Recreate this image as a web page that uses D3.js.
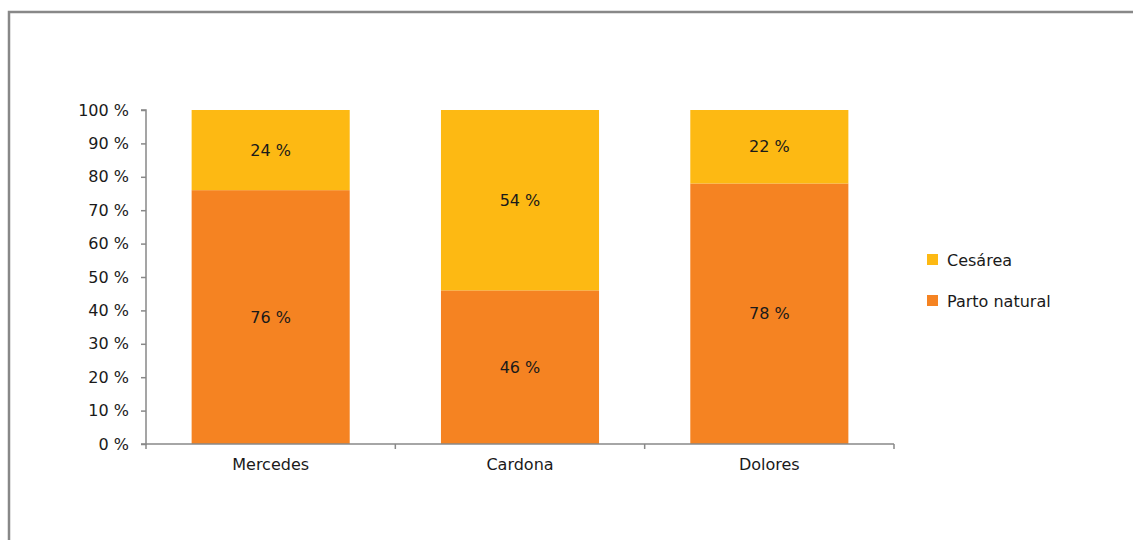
<!DOCTYPE html>
<html>
<head>
<meta charset="utf-8">
<script src="https://cdn.jsdelivr.net/npm/d3@7"></script>
<style>
  body { margin: 0; background: #fff; }
  text { font-family: "DejaVu Sans", sans-serif; fill: #1a1a1a; }
</style>
</head>
<body>
<div id="chart"></div>
<script>
var categories = ["Mercedes", "Cardona", "Dolores"];
var partoNatural = [76, 46, 78];
var cesarea = [24, 54, 22];
var yTicks = [0, 10, 20, 30, 40, 50, 60, 70, 80, 90, 100];
var seriesNames = ["Cesárea", "Parto natural"];
var seriesColors = ["#FDB913", "#F58322"];

var width = 1133, height = 540;
var plotLeft = 146, plotRight = 894, plotTop = 110, plotBottom = 444;

var svg = d3.select('#chart')
    .append('svg')
    .attr('width', width)
    .attr('height', height);

// frame
svg.append('path')
    .attr('d', 'M9,' + (height + 5) + 'V12H' + (width + 5))
    .attr('fill', 'none')
    .attr('stroke', '#888')
    .attr('stroke-width', 2.5);

var x = d3.scaleBand().domain(categories).range([plotLeft, plotRight]);
var y = d3.scaleLinear().domain([0, 100]).range([plotBottom, plotTop]);
var barWidth = x.bandwidth() * 0.634;

var rows = categories.map(function(c, i) {
    return { name: c, parto: partoNatural[i], cesarea: cesarea[i] };
});

var bars = svg.append('g').selectAll('g')
    .data(rows)
    .enter()
    .append('g');

bars.append('rect')
    .attr('x', function(d) { return x(d.name) + (x.bandwidth() - barWidth) / 2; })
    .attr('y', function(d) { return y(d.parto); })
    .attr('width', barWidth)
    .attr('height', function(d) { return y(0) - y(d.parto); })
    .attr('fill', seriesColors[1]);

bars.append('rect')
    .attr('x', function(d) { return x(d.name) + (x.bandwidth() - barWidth) / 2; })
    .attr('y', function(d) { return y(d.parto + d.cesarea); })
    .attr('width', barWidth)
    .attr('height', function(d) { return y(d.parto) - y(d.parto + d.cesarea); })
    .attr('fill', seriesColors[0]);

bars.append('text')
    .attr('x', function(d) { return x(d.name) + x.bandwidth() / 2; })
    .attr('y', function(d) { return y(d.parto / 2); })
    .attr('dy', '.35em')
    .attr('text-anchor', 'middle')
    .style('font-size', '16px')
    .text(function(d) { return d.parto + ' %'; });

bars.append('text')
    .attr('x', function(d) { return x(d.name) + x.bandwidth() / 2; })
    .attr('y', function(d) { return y(d.parto + d.cesarea / 2); })
    .attr('dy', '.35em')
    .attr('text-anchor', 'middle')
    .style('font-size', '16px')
    .text(function(d) { return d.cesarea + ' %'; });

// y axis
var yAxis = svg.append('g')
    .attr('transform', 'translate(' + plotLeft + ',0)')
    .call(d3.axisLeft(y).tickValues(yTicks).tickSize(5).tickPadding(12)
        .tickFormat(function(d) { return d + ' %'; }));
yAxis.selectAll('path, line').attr('stroke', '#888').attr('stroke-width', 1.5);
yAxis.select('.domain').attr('d', 'M-5,' + plotTop + 'H0V' + plotBottom + 'H-5');
yAxis.selectAll('text').style('font-size', '16px').style('font-family', '"DejaVu Sans", sans-serif').attr('fill', '#1a1a1a');

// x axis
var xAxis = svg.append('g')
    .attr('transform', 'translate(0,' + plotBottom + ')')
    .call(d3.axisBottom(x).tickSize(0).tickPadding(15));
xAxis.select('.domain').attr('stroke', '#888').attr('stroke-width', 1.5)
    .attr('d', 'M' + plotLeft + ',0H' + plotRight);
xAxis.selectAll('text').style('font-size', '16px').style('font-family', '"DejaVu Sans", sans-serif').attr('fill', '#1a1a1a');

var bounds = categories.map(function(c) { return x(c); }).concat([plotRight]);
xAxis.selectAll('line.bound')
    .data(bounds)
    .enter()
    .append('line')
    .attr('class', 'bound')
    .attr('x1', function(d) { return d; })
    .attr('x2', function(d) { return d; })
    .attr('y1', 0)
    .attr('y2', 5)
    .attr('stroke', '#888')
    .attr('stroke-width', 1.5);

// legend
var legend = svg.append('g').attr('class', 'legend')
    .selectAll('g')
    .data(seriesNames)
    .enter()
    .append('g')
    .attr('transform', function(d, i) { return 'translate(927,' + (254 + i * 41) + ')'; });

legend.append('rect')
    .attr('width', 11)
    .attr('height', 11)
    .attr('fill', function(d, i) { return seriesColors[i]; });

legend.append('text')
    .attr('x', 20)
    .attr('y', 6)
    .attr('dy', '.35em')
    .style('font-size', '16px')
    .text(function(d) { return d; });
</script>
</body>
</html>
